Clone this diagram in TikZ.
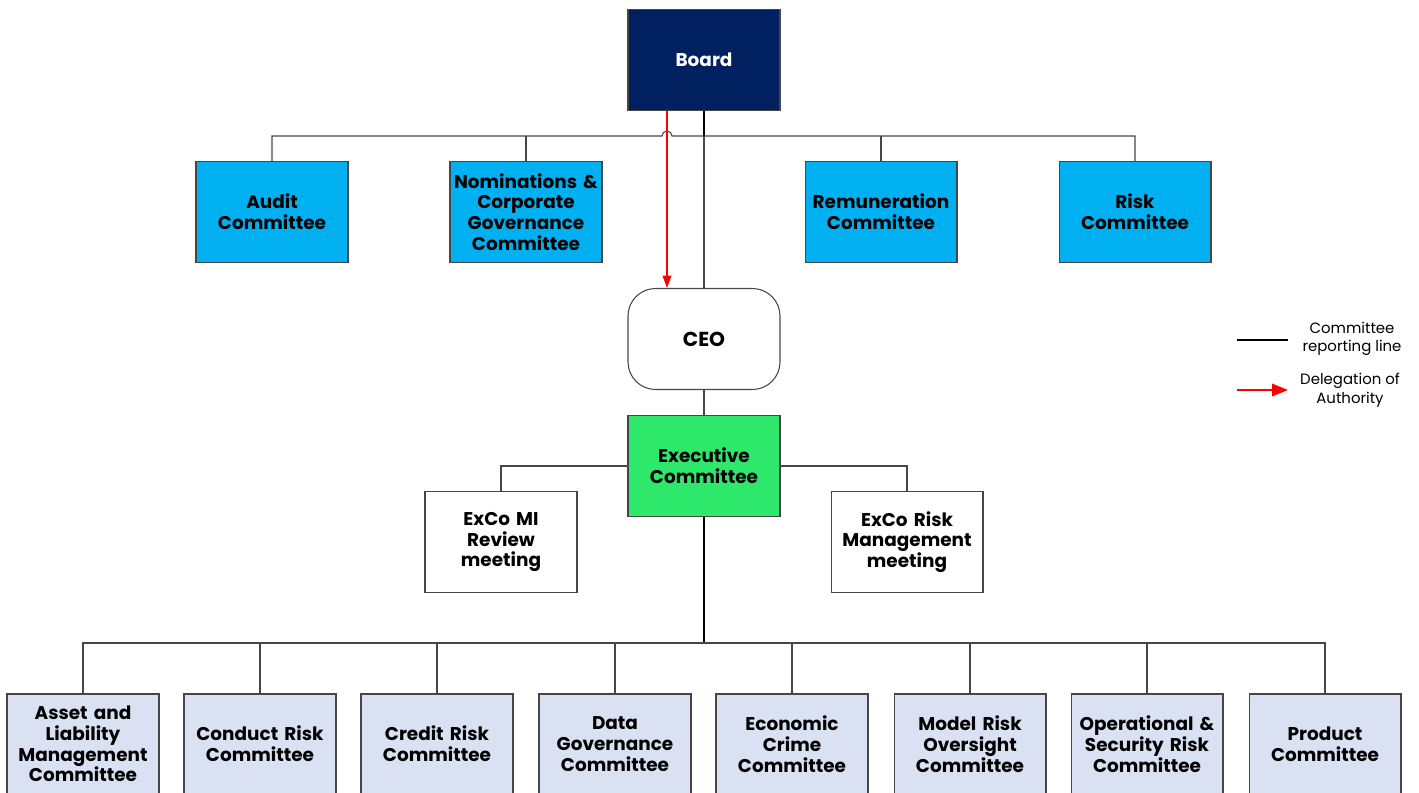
\documentclass[tikz,border=0pt]{standalone}
\usepackage{fontspec}
\setmainfont{Poppins}
\usetikzlibrary{arrows.meta, positioning, calc}
\definecolor{boardnavy}{RGB}{0, 32, 96}
\definecolor{boardcyan}{RGB}{0, 176, 240}
\definecolor{excogreen}{RGB}{46, 232, 108}
\definecolor{sublight}{RGB}{217, 225, 242}
\definecolor{linegray}{RGB}{70, 70, 70}

\begin{document}
\begin{tikzpicture}[x=0.02cm, y=-0.02cm,
  box/.style={draw=linegray, line width=0.6pt, minimum width=3.04cm, minimum height=2.02cm,
    text width=2.98cm, align=center, inner sep=0pt, font=\bfseries\fontsize{10.5}{11.8}\selectfont},
  reportline/.style={draw=linegray, line width=0.6pt},
  mainline/.style={draw=black, line width=1.2pt},
  deleg/.style={draw=red, line width=0.6pt, -{Triangle[length=7pt, width=5pt]}},
  legtext/.style={align=center, font=\fontsize{8.5}{10.5}\selectfont}]
  \useasboundingbox (0,0) rectangle (1419,793);

  % Board und Ausschuesse
  \node[box, fill=boardnavy, text=white] (board) at (704,60) {Board};
  \node[box, fill=boardcyan] (audit) at (272,212) {Audit\\Committee};
  \node[box, fill=boardcyan] (nomin) at (526,212) {Nominations \&\\Corporate\\Governance\\Committee};
  \node[box, fill=boardcyan] (remun) at (881,212) {Remuneration\\Committee};
  \node[box, fill=boardcyan] (riskc) at (1135,212) {Risk\\Committee};
  \coordinate (topbus) at (704,136);

  \draw[reportline] (audit.north) |- (662,136) arc[start angle=180, end angle=360, radius=5] -| (riskc.north);
  \draw[reportline] (nomin.north) -- (nomin.north |- topbus);
  \draw[reportline] (remun.north) -- (remun.north |- topbus);

  % CEO
  \node[box, fill=white, rounded corners=0.55cm, font=\bfseries\fontsize{11.5}{13}\selectfont] (ceo) at (704,339) {CEO};
  \draw[mainline] (board.south) -- (topbus);
  \draw[reportline] (topbus) -- (ceo.north);
  \draw[deleg] ([xshift=-0.74cm]board.south) -- ([xshift=-0.74cm]ceo.north);

  % ExCo
  \node[box, fill=excogreen] (exco) at (704,466) {Executive\\Committee};
  \node[box, fill=white] (mimeet) at (501,542) {ExCo MI\\Review\\meeting};
  \node[box, fill=white] (riskmeet) at (907,542) {ExCo Risk\\Management\\meeting};
  \draw[reportline] (ceo.south) -- (exco.north);
  \draw[reportline] (exco.west) -| (mimeet.north);
  \draw[reportline] (exco.east) -| (riskmeet.north);

  % Unterausschuesse
  \coordinate (lowbus) at (704,643);
  \foreach \name/\xpos/\label in {
      alm/83/{Asset and\\Liability\\Management\\Committee},
      conduct/260/{Conduct Risk\\Committee},
      credit/437/{Credit Risk\\Committee},
      datagov/615/{Data\\Governance\\Committee},
      crime/792/{Economic\\Crime\\Committee},
      model/970/{Model Risk\\Oversight\\Committee},
      opsec/1147/{Operational \&\\Security Risk\\Committee},
      product/1325/{Product\\Committee}}
    \node[box, fill=sublight, minimum height=2cm] (\name) at (\xpos,744) {\label};

  \draw[mainline] (exco.south) -- (lowbus);
  \draw[reportline] (alm.north) |- (lowbus) -| (product.north);
  \foreach \name in {conduct, credit, datagov, crime, model, opsec}
    \draw[reportline] (\name.north) -- (\name.north |- lowbus);

  % Legende
  \coordinate (legA) at (1237,340);
  \coordinate (legB) at (1288,340);
  \coordinate (legC) at (1237,390);
  \coordinate (legD) at (1288,390);
  \draw[black, line width=1pt] (legA) -- (legB);
  \draw[red, line width=1pt, -{Triangle[length=9pt, width=7pt]}] (legC) -- (legD);
  \node[legtext] (legrep) at (1352,339) {Committee\\reporting line};
  \node[legtext] (legdel) at (1350,390) {Delegation of\\Authority};
\end{tikzpicture}
\end{document}
